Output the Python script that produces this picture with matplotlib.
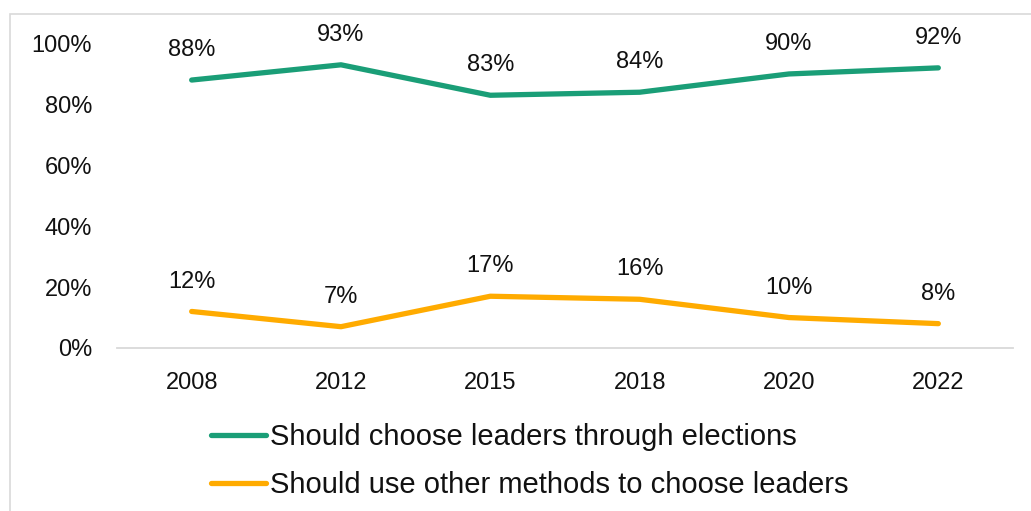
import matplotlib
matplotlib.use("Agg")
import matplotlib.pyplot as plt
from matplotlib.patches import Rectangle

years = ["2008", "2012", "2015", "2018", "2020", "2022"]
elections = [88, 93, 83, 84, 90, 92]
other_methods = [12, 7, 17, 16, 10, 8]
series_names = ["Should choose leaders through elections",
                "Should use other methods to choose leaders"]
yticks = [0, 20, 40, 60, 80, 100]

GREEN = "#1a9e77"
ORANGE = "#ffab00"
TEXT = "#111111"
FS = 17

plt.rcParams["font.family"] = ["Liberation Sans", "DejaVu Sans"]

fig = plt.figure(figsize=(10.31, 5.11), dpi=100)
W, H = 1031, 511
# axes in pixel terms: x from 117 to 1013, y from 348 (0%) to 43.5 (100%)
ax = fig.add_axes([117 / W, 1 - 348 / H, (1013 - 117) / W, (348 - 43.5) / H])

x = list(range(len(years)))
ax.plot(x, elections, color=GREEN, lw=3.8, solid_capstyle="round",
        solid_joinstyle="round", label=series_names[0])
ax.plot(x, other_methods, color=ORANGE, lw=3.8, solid_capstyle="round",
        solid_joinstyle="round", label=series_names[1])

for series in (elections, other_methods):
    for xi, v in zip(x, series):
        ax.annotate(f"{v}%", (xi, v), xytext=(0, 21.5), textcoords="offset points",
                    ha="center", va="center", fontsize=FS, color=TEXT)

ax.set_xlim(-0.5, len(years) - 0.5)
ax.set_ylim(0, 100)
ax.set_xticks(x)
ax.set_xticklabels(years)
ax.set_yticks(yticks)
ax.set_yticklabels([f"{t}%" for t in yticks])
ax.tick_params(length=0, labelsize=FS, colors=TEXT)
ax.tick_params(axis="x", pad=17.5)
ax.tick_params(axis="y", pad=18)
for side in ("top", "right", "left"):
    ax.spines[side].set_visible(False)
ax.spines["bottom"].set_color("#d9d9d9")
ax.spines["bottom"].set_linewidth(1.3)

leg = fig.legend(loc="center left", bbox_to_anchor=(211 / W, 1 - 461 / H),
                 frameon=False, fontsize=21, handlelength=1.9,
                 handletextpad=0.12, labelspacing=0.7, borderaxespad=0,
                 borderpad=0)
for t in leg.get_texts():
    t.set_color(TEXT)

# light frame around the chart area
fig.patches.append(Rectangle((10 / W, -0.1), 1.2, 1 - 14 / H + 0.1,
                             transform=fig.transFigure, fill=False,
                             edgecolor="#d9d9d9", lw=1.2))

fig.savefig("out.png", dpi=100)
